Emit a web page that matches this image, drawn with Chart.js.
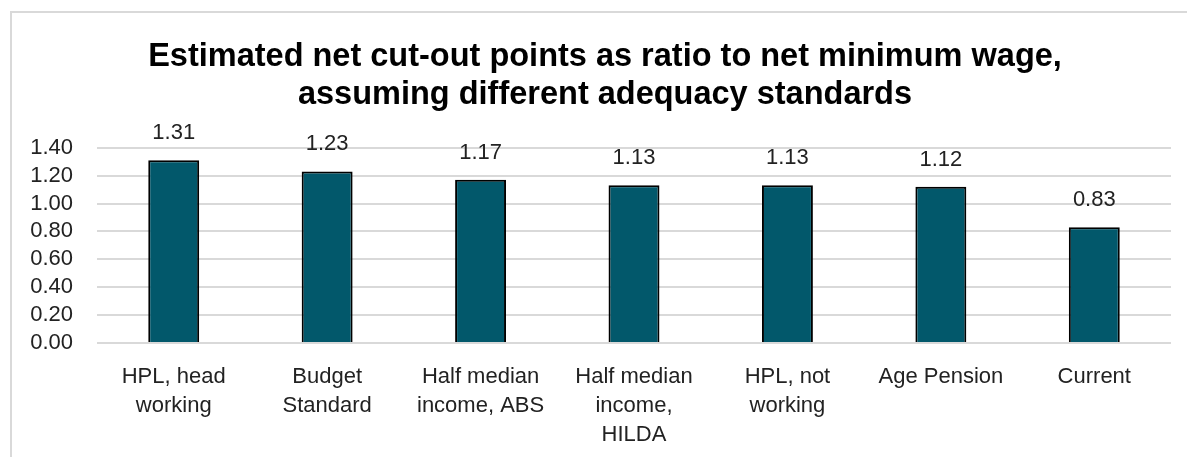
<!DOCTYPE html>
<html>
<head>
<meta charset="utf-8">
<script src="https://cdn.jsdelivr.net/npm/chart.js@4"></script>
<style>
  html, body { margin: 0; padding: 0; background: #fff; width: 1187px; height: 457px; overflow: hidden; }
  #frame { position: absolute; left: 10px; top: 11px; width: 1300px; height: 600px;
           border-top: 2px solid #d9d9d9; border-left: 2px solid #d9d9d9; }
  #wrap { position: absolute; left: 0; top: 0; width: 1187px; height: 457px; }
</style>
</head>
<body>
<div id="frame"></div>
<div id="wrap"><canvas id="c" width="1187" height="457"></canvas></div>
<script>
const categories = [
  ["HPL, head", "working"],
  ["Budget", "Standard"],
  ["Half median", "income, ABS"],
  ["Half median", "income,", "HILDA"],
  ["HPL, not", "working"],
  ["Age Pension"],
  ["Current"]
];
const values = [1.31, 1.23, 1.17, 1.13, 1.13, 1.12, 0.83];
const titleLines = [
  "Estimated net cut-out points as ratio to net minimum wage,",
  "assuming different adequacy standards"
];
const yTicks = { min: 0, max: 1.4, step: 0.2 };

const FONT = "'Liberation Sans', Arial, sans-serif";

const valueLabels = {
  id: 'valueLabels',
  afterDatasetsDraw(chart) {
    const ctx = chart.ctx;
    const meta = chart.getDatasetMeta(0);
    ctx.save();
    ctx.font = "22px " + FONT;
    ctx.fillStyle = "#222222";
    ctx.textAlign = "center";
    ctx.textBaseline = "middle";
    meta.data.forEach((bar, i) => {
      ctx.fillText(values[i].toFixed(2), bar.x, bar.y - 27);
    });
    ctx.restore();
  }
};

new Chart(document.getElementById('c'), {
  type: 'bar',
  data: {
    labels: categories,
    datasets: [{
      data: values,
      backgroundColor: '#02586B',
      borderColor: '#000000',
      borderWidth: 2,
      barPercentage: 0.332,
      categoryPercentage: 1.0
    }]
  },
  options: {
    responsive: false,
    animation: false,
    devicePixelRatio: 1,
    layout: { padding: { left: 23, right: 0, top: 12, bottom: 0 } },
    plugins: {
      legend: { display: false },
      tooltip: { enabled: false },
      title: {
        display: true,
        text: titleLines,
        color: '#000000',
        font: { family: FONT, size: 32.5, weight: 'bold', lineHeight: 1.18 },
        padding: { top: 26, bottom: 33 }
      }
    },
    scales: {
      x: {
        grid: { display: false },
        border: { display: false },
        ticks: {
          color: '#222222',
          font: { family: FONT, size: 22, lineHeight: 1.3 },
          padding: 12,
          maxRotation: 0,
          autoSkip: false
        },
        afterFit(scale) { scale.height = 114; }
      },
      y: {
        min: yTicks.min,
        max: yTicks.max,
        border: { display: false },
        grid: { color: '#d9d9d9', lineWidth: 2, drawTicks: false },
        ticks: {
          stepSize: yTicks.step,
          autoSkip: false,
          color: '#222222',
          font: { family: FONT, size: 22 },
          padding: 24,
          callback: v => Number(v).toFixed(2)
        },
        afterFit(scale) { scale.width = 74; }
      },
      yRight: {
        position: 'right',
        display: true,
        min: 0,
        max: 1,
        grid: { display: false },
        border: { display: false },
        ticks: { display: false },
        afterFit(scale) { scale.width = 16; }
      }
    }
  },
  plugins: [valueLabels]
});
</script>
</body>
</html>
